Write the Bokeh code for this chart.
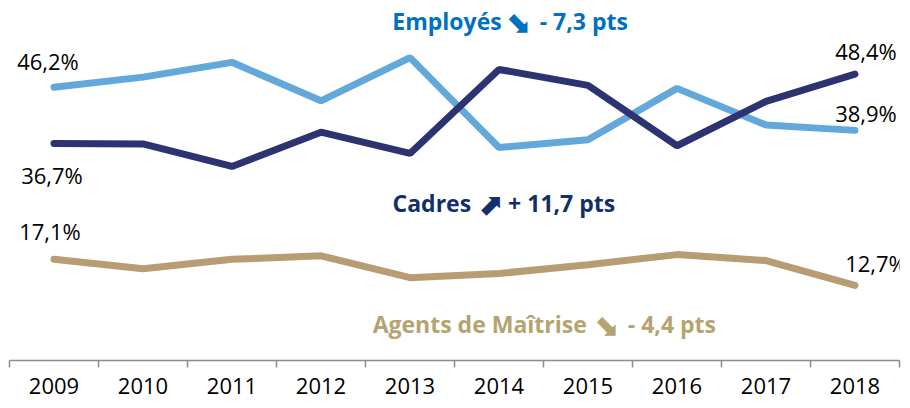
from bokeh.plotting import figure
from bokeh.models import Range1d, LinearAxis, FixedTicker, ColumnDataSource
from bokeh.core.properties import value
from bokeh.embed import file_html
from bokeh.resources import INLINE

# ---- data ----
years = [2009, 2010, 2011, 2012, 2013, 2014, 2015, 2016, 2017, 2018]
employes = [46.2, 47.9, 50.4, 43.9, 51.2, 36.0, 37.3, 46.0, 39.8, 38.9]
cadres = [36.7, 36.6, 32.8, 38.6, 35.0, 49.2, 46.5, 36.3, 43.8, 48.4]
agents = [17.1, 15.5, 17.1, 17.7, 14.0, 14.7, 16.2, 17.9, 16.9, 12.7]

title_names = ["Employés", "Cadres", "Agents de Maîtrise"]
title_arrows = ["⬊", "⬈", "⬊"]
title_deltas = ["- 7,3 pts", "+ 11,7 pts", "- 4,4 pts"]

# ---- styles ----
C_EMP = "#62A8DB"
C_CAD = "#2D3270"
C_AGT = "#B89C73"
T_EMP = "#0070C0"
T_CAD = "#112F6B"
T_AGT = "#B3A470"
FONT = "Open Sans"


def fmt(v):
    return f"{v:.1f}".replace(".", ",") + "%"


p = figure(width=908, height=408, output_backend="svg", toolbar_location=None,
           x_range=Range1d(years[0] - 0.5, years[-1] + 0.5), y_range=Range1d(0, 59.5),
           min_border_left=9, min_border_right=9, min_border_top=8, min_border_bottom=48,
           x_axis_location=None, y_axis_location=None)
p.outline_line_color = None
p.xgrid.visible = False
p.ygrid.visible = False
p.background_fill_color = "white"
p.border_fill_color = "white"

boundaries = [y - 0.5 for y in years] + [years[-1] + 0.5]
axis = LinearAxis(ticker=FixedTicker(ticks=years, minor_ticks=boundaries))
axis.axis_line_color = "#8C8C8C"
axis.axis_line_width = 1.5
axis.major_tick_line_color = None
axis.major_tick_out = 0
axis.major_tick_in = 0
axis.minor_tick_line_color = "#8C8C8C"
axis.minor_tick_line_width = 1.5
axis.minor_tick_out = 7
axis.minor_tick_in = 0
axis.major_label_text_font = FONT
axis.major_label_text_font_size = "22px"
axis.major_label_text_color = "#000000"
axis.major_label_standoff = 10
p.add_layout(axis, "below")

for series, col in ((employes, C_EMP), (cadres, C_CAD), (agents, C_AGT)):
    p.line(years, series, line_color=col, line_width=7, line_cap="round")

# end value labels
lab = ColumnDataSource(dict(
    x=[years[0], years[0], years[0], years[-1], years[-1], years[-1]],
    y=[employes[0], cadres[0], agents[0], cadres[-1], employes[-1], agents[-1]],
    t=[fmt(employes[0]), fmt(cadres[0]), fmt(agents[0]), fmt(cadres[-1]), fmt(employes[-1]), fmt(agents[-1])],
    dx=[-6, -2, -4, 11, 11, 21],
    dy=[-26, 32, -28, -23, -17, -22],
))
p.text(x="x", y="y", text="t", x_offset="dx", y_offset="dy", source=lab,
       text_font=value(FONT), text_font_size="22px", text_color="#000000",
       text_align="center", text_baseline="middle")

# series titles (anchored at the arrow position)
ax = [2014.21, 2013.90, 2015.20]
ay = [57.47, 26.54, 6.25]
cols = [T_EMP, T_CAD, T_AGT]
left = ColumnDataSource(dict(x=ax, y=ay, t=title_names, c=cols, dx=[-16, -19, -19]))
right = ColumnDataSource(dict(x=ax, y=ay, t=title_deltas, c=cols, dx=[22, 18, 22]))
arrows = ColumnDataSource(dict(x=ax, y=ay, t=title_arrows, c=cols))
p.text(x="x", y="y", text="t", text_color="c", x_offset="dx", source=left,
       text_font=value(FONT), text_font_size="23px", text_font_style="bold",
       text_align="right", text_baseline="middle")
p.text(x="x", y="y", text="t", text_color="c", x_offset="dx", source=right,
       text_font=value(FONT), text_font_size="23px", text_font_style="bold",
       text_align="left", text_baseline="middle")
p.text(x="x", y="y", text="t", text_color="c", source=arrows, y_offset=1,
       text_font=value("DejaVu Sans"), text_font_size="30px", text_font_style="bold",
       text_align="center", text_baseline="middle")

open("out.html", "w").write(file_html(p, INLINE))
